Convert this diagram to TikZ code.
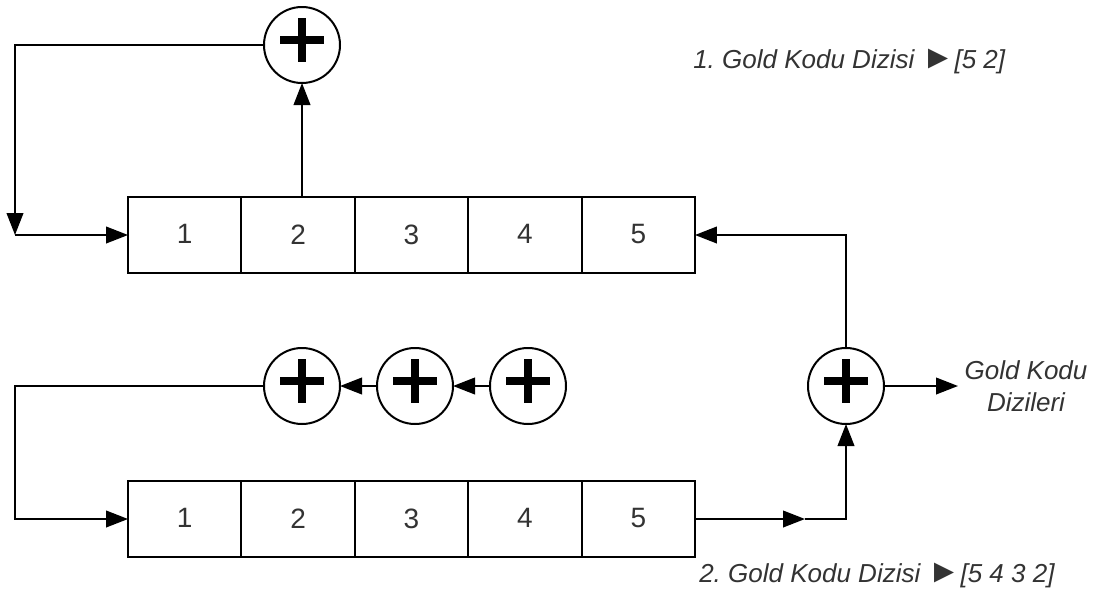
\documentclass[tikz,border=0pt]{standalone}
\usepackage{fontspec}
\setmainfont{Liberation Sans}
\usetikzlibrary{arrows.meta}
\definecolor{labelgray}{rgb}{0.2,0.2,0.2}
\newcommand{\marker}{{\fontsize{25}{24}\selectfont\upshape ►}}
\tikzset{
    regcell/.style={draw, line width=1.4pt, minimum width=85pt, minimum height=57pt, inner sep=0pt, outer sep=0pt, font=\fontsize{21}{24}\selectfont, text=labelgray},
    sumnode/.style={circle, draw, line width=1.5pt, minimum size=57pt, inner sep=0pt, outer sep=0pt},
    plusbar/.style={line width=5.5pt},
    wiretip/.style={line width=1.4pt, -{Triangle[length=16.5pt,width=12.5pt]}},
    dizilabel/.style={inner sep=0.75pt, text=labelgray, font=\fontsize{19.5}{24}\selectfont\itshape}
}
\begin{document}
\begin{tikzpicture}[x=0.75pt,y=0.75pt,yscale=-1,xscale=1]
        \useasboundingbox (0,0) rectangle (1101,590);
        \frenchspacing

        % Shift registers
        \foreach \n/\xpos in {1/184.7,2/298.1,3/411.5,4/524.9,5/638.3} {
            \node [regcell] (top\n) at (\xpos,235) {\raisebox{1pt}{\n}};
            \node [regcell] (bot\n) at (\xpos,519) {\raisebox{1pt}{\n}};
        }

        % Adders
        \node [sumnode] (sumtop) at (302,45) {};
        \node [sumnode] (sumlefta) at (302,386) {};
        \node [sumnode] (sumleftb) at (415,386) {};
        \node [sumnode] (sumleftc) at (528,386) {};
        \node [sumnode] (sumout) at (846,386) {};
        \foreach \s in {sumtop,sumlefta,sumleftb,sumleftc,sumout} {
            \draw [plusbar] ([shift={(-22,-5)}]\s.center) -- ([shift={(22,-5)}]\s.center);
            \draw [plusbar] ([shift={(0,-27)}]\s.center) -- ([shift={(0,17)}]\s.center);
        }

        % Free corners
        \coordinate (cornertop) at (15,45);
        \coordinate (cornerfold) at (15,235);
        \coordinate (cornerbot) at (15,386);
        \coordinate (cornerin) at (15,519);
        \coordinate (midtip) at (805,519);
        \coordinate (cornerout) at (846,519);
        \coordinate (outtip) at (958,386);

        % Upper register wires
        \draw [wiretip] (sumtop.west) -- (cornertop) -- (cornerfold);
        \draw [wiretip] (cornerfold) -- (top1.west);
        \draw [wiretip] (top2.north -| sumtop) -- (sumtop.south);
        \draw [wiretip] (sumout.north) |- (top5.east);

        % Lower register wires
        \draw [wiretip] (sumlefta.west) -- (cornerbot) -- (cornerin) -- (bot1.west);
        \draw [wiretip] (sumleftb.west) -- (sumlefta.east);
        \draw [wiretip] (sumleftc.west) -- (sumleftb.east);
        \draw [wiretip] (bot5.east) -- (midtip);
        \draw [wiretip] (midtip) -- (cornerout) -- (sumout.south);
        \draw [wiretip] (sumout.east) -- (outtip);

        % Text Node
        \node [dizilabel, anchor=west] (diziA) at (692,61) {1. Gold Kodu Dizisi \marker[5 2]};
        % Text Node
        \node [dizilabel, anchor=west] (diziB) at (698,575) {2. Gold Kodu Dizisi \marker[5 4 3 2]};
        % Text Node
        \node [dizilabel, align=center] (dizioutput) at (1026,386) {Gold Kodu\\Dizileri};
\end{tikzpicture}
\end{document}
